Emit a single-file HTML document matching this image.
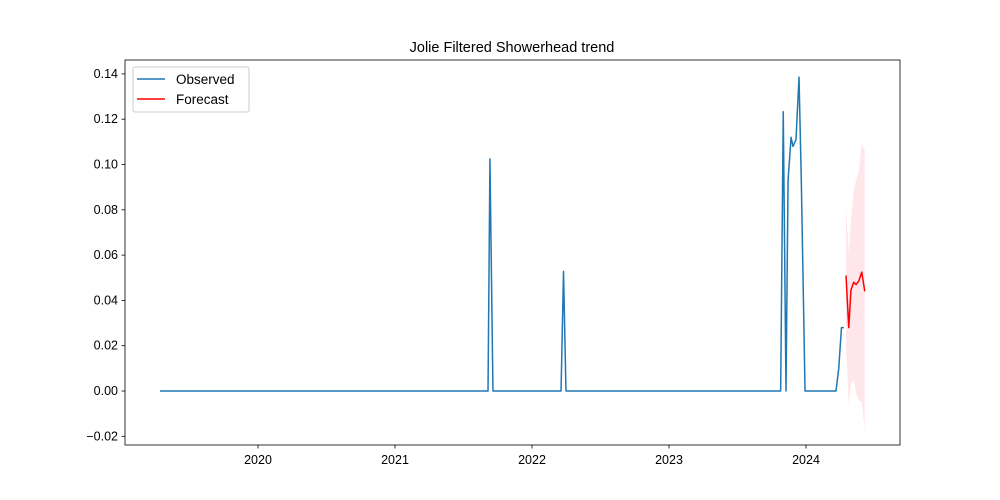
<!DOCTYPE html>
<html><head><meta charset="utf-8"><style>
body{margin:0;background:#fff;}
svg{display:block;font-family:"Liberation Sans","DejaVu Sans",sans-serif;}
</style></head><body>
<svg id="chart" width="1000" height="500" viewBox="0 0 1000 500">
<rect width="1000" height="500" fill="#fff"/>
<text x="512" y="52" text-anchor="middle" font-size="14.5">Jolie Filtered Showerhead trend</text>
<g id="plot"></g>
</svg>
<script>
const obsDates=[2019.285,2021.679,2021.693,2021.715,2022.212,2022.230,2022.248,2023.815,2023.834,2023.854,2023.869,2023.891,2023.905,2023.927,2023.949,2023.966,2023.993,2024.219,2024.239,2024.259,2024.277];
const obsValues=[0,0,0.1025,0,0,0.0528,0,0,0.1233,0,0.093,0.112,0.108,0.111,0.1386,0.092,0,0,0.01,0.028,0.028];
const fcDates=[2024.292,2024.312,2024.328,2024.348,2024.365,2024.385,2024.407,2024.429];
const fcValues=[0.051,0.028,0.0445,0.048,0.047,0.0485,0.0525,0.044];
const fcUpper=[0.081,0.061,0.075,0.088,0.093,0.097,0.109,0.106];
const fcLower=[0.020,-0.006,0.003,0.005,-0.001,-0.004,-0.005,-0.017];
const yTicks=[-0.02,0,0.02,0.04,0.06,0.08,0.10,0.12,0.14];
const yTickLabels=["−0.02","0.00","0.02","0.04","0.06","0.08","0.10","0.12","0.14"];
const xTicks=[2020,2021,2022,2023,2024];

const L=125,R=900,T=60,B=445;
const xs=d=>258+(d-2020)*137;
const ys=v=>391-v*2265;
const NS="http://www.w3.org/2000/svg";
const g=document.getElementById('plot');
function mk(tag,attrs){const e=document.createElementNS(NS,tag);for(const k in attrs)e.setAttribute(k,attrs[k]);g.appendChild(e);return e;}

// band
let pts=fcDates.map((d,i)=>xs(d)+','+ys(fcUpper[i]));
for(let i=fcDates.length-1;i>=0;i--)pts.push(xs(fcDates[i])+','+ys(fcLower[i]));
const band=mk('polygon',{points:pts.join(' '),fill:'#ffc0cb',opacity:0.4});



const obs=mk('polyline',{points:obsDates.map((d,i)=>xs(d)+','+ys(obsValues[i])).join(' '),fill:'none',stroke:'#1f77b4','stroke-width':1.5,'stroke-linejoin':'round'});



const fc=mk('polyline',{points:fcDates.map((d,i)=>xs(d)+','+ys(fcValues[i])).join(' '),fill:'none',stroke:'red','stroke-width':1.5,'stroke-linejoin':'round'});



const frame=mk('rect',{x:L,y:T,width:R-L,height:B-T,fill:'none',stroke:'#000','stroke-width':0.8});



yTicks.forEach((v,i)=>{
  const y=ys(v);
  const t=mk('line',{x1:L-3.5,x2:L,y1:y,y2:y,stroke:'#000','stroke-width':0.8});
  
  
  const lb=mk('text',{x:L-7,y:y+4,'text-anchor':'end','font-size':12.5});
  lb.textContent=yTickLabels[i];
  
  
});
xTicks.forEach(d=>{
  const x=xs(d);
  const t=mk('line',{x1:x,x2:x,y1:B,y2:B+3.5,stroke:'#000','stroke-width':0.8});
  
  
  const lb=mk('text',{x:x,y:B+19,'text-anchor':'middle','font-size':12.5});
  lb.textContent=String(d);
  
  
});

// legend
const lg=mk('rect',{x:133,y:67,width:116,height:45,rx:2,fill:'#fff',stroke:'#ccc','stroke-width':1});


const l1=mk('line',{x1:137,x2:165,y1:79,y2:79,stroke:'#1f77b4','stroke-width':1.5});


const t1=mk('text',{x:176,y:84,'font-size':13.5});t1.textContent='Observed';


const l2=mk('line',{x1:137,x2:165,y1:99,y2:99,stroke:'red','stroke-width':1.5});


const t2=mk('text',{x:176,y:104,'font-size':13.5});t2.textContent='Forecast';


</script>
</body></html>
